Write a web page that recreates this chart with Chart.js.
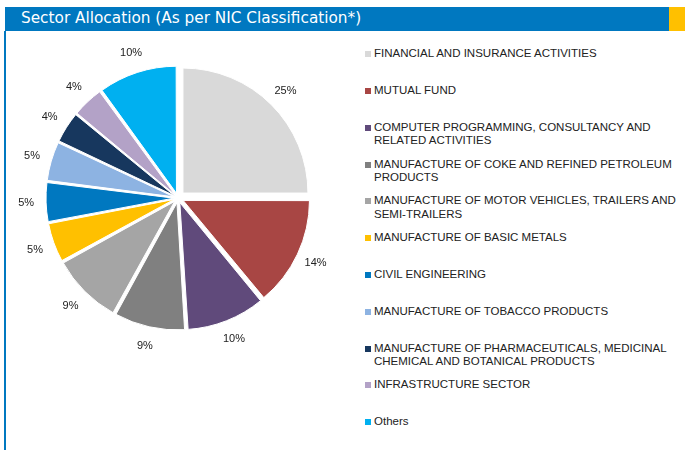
<!DOCTYPE html>
<html>
<head>
<meta charset="utf-8">
<script src="https://cdn.jsdelivr.net/npm/chart.js@4"></script>
<style>
  body { margin: 0; width: 685px; height: 450px; background: #fff; overflow: hidden; position: relative; font-family: "Liberation Sans", Arial, sans-serif; }
  .head { position: absolute; left: 5px; top: 7px; width: 664px; height: 24px; background: #0078c0; }
  .head span { position: absolute; left: 16px; top: 2px; color: #fff; font: 15.3px "DejaVu Sans", sans-serif; }
  .tab { position: absolute; left: 669px; top: 7px; width: 16px; height: 24px; background: #ffc000; }
  .rule { position: absolute; left: 4px; top: 31px; width: 2px; height: 419px; background: #0078c0; }
  #wrap { position: absolute; left: 0; top: 0; width: 356px; height: 396px; }
  #legend { position: absolute; left: 0; top: 0; }
  .item { position: absolute; left: 374px; font-size: 11.5px; line-height: 13.5px; color: #222; white-space: pre; }
  .item i { position: absolute; left: -9px; top: 4px; width: 6px; height: 6px; }
</style>
</head>
<body>
<div class="head"><span>Sector Allocation (As per NIC Classification*)</span></div>
<div class="tab"></div>
<div class="rule"></div>
<div id="wrap"><canvas id="sectorChart"></canvas></div>
<div id="legend"></div>
<script>
const sectors = [
  ["FINANCIAL AND INSURANCE ACTIVITIES"],
  ["MUTUAL FUND"],
  ["COMPUTER PROGRAMMING, CONSULTANCY AND", "RELATED ACTIVITIES"],
  ["MANUFACTURE OF COKE AND REFINED PETROLEUM", "PRODUCTS"],
  ["MANUFACTURE OF MOTOR VEHICLES, TRAILERS AND", "SEMI-TRAILERS"],
  ["MANUFACTURE OF BASIC METALS"],
  ["CIVIL ENGINEERING"],
  ["MANUFACTURE OF TOBACCO PRODUCTS"],
  ["MANUFACTURE OF PHARMACEUTICALS, MEDICINAL", "CHEMICAL AND BOTANICAL PRODUCTS"],
  ["INFRASTRUCTURE SECTOR"],
  ["Others"],
];
const shares = [25, 14, 10, 9, 9, 5, 5, 5, 4, 4, 10];
const palette = ["#d9d9d9", "#a84644", "#604a7b", "#808080", "#a5a5a5", "#ffc000",
  "#0078c0", "#8db3e2", "#17375e", "#b3a2c7", "#00b0f0"];

const total = shares.reduce((a, b) => a + b, 0);

// chart.js pushes thin slices further out; scale the offset so every slice moves ~7px
function explode(c) {
  const angle = shares[c.dataIndex] / total * Math.PI * 2;
  const fix = 1 - Math.sin(Math.min(Math.PI, angle));
  return 28 / (1 + fix);
}

const pctLabels = {
  id: "pctLabels",
  afterDatasetsDraw(chart) {
    const ctx = chart.ctx;
    const meta = chart.getDatasetMeta(0);
    ctx.save();
    ctx.font = '11px "Liberation Sans", Arial, sans-serif';
    ctx.fillStyle = "#222";
    ctx.textAlign = "center";
    ctx.textBaseline = "middle";
    meta.data.forEach((arc, i) => {
      const p = arc.getProps(["x", "y", "startAngle", "endAngle", "outerRadius"], true);
      const mid = (p.startAngle + p.endAngle) / 2;
      const r = p.outerRadius + 27;
      ctx.fillText(shares[i] + "%", p.x + Math.cos(mid) * r, p.y + Math.sin(mid) * r);
    });
    ctx.restore();
  },
};

new Chart(document.getElementById("sectorChart"), {
  type: "pie",
  data: {
    labels: sectors,
    datasets: [{
      data: shares,
      backgroundColor: palette,
      borderColor: "#fff",
      borderWidth: 1,
      offset: explode,
    }],
  },
  options: {
    responsive: true,
    maintainAspectRatio: false,
    animation: false,
    events: [],
    radius: 125,
    layout: { padding: 0 },
    plugins: { legend: { display: false }, tooltip: { enabled: false } },
  },
  plugins: [pctLabels],
});

// legend on the right, one row every ~37px
const legend = document.getElementById("legend");
sectors.forEach((lines, i) => {
  const row = document.createElement("div");
  row.className = "item";
  row.style.top = (54 + 36.8 * i - 6.75) + "px";
  const box = document.createElement("i");
  box.style.background = palette[i];
  row.appendChild(box);
  row.appendChild(document.createTextNode(lines.join("\n")));
  legend.appendChild(row);
});
</script>
</body>
</html>
